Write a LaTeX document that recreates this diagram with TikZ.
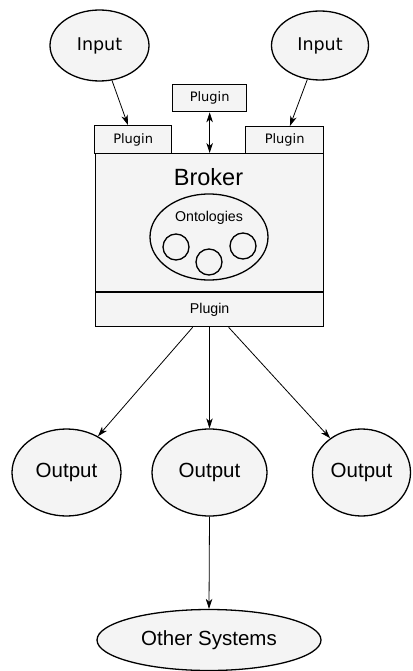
\documentclass[tikz,border=0pt]{standalone}
\usepackage{fontspec}
\setmainfont{Liberation Sans}
\newfontfamily\dejavu{DejaVu Sans}
\usetikzlibrary{shapes.geometric,arrows.meta}
\definecolor{shapefill}{HTML}{F4F4F4}
\tikzset{
  shp/.style={draw=black,line width=1.3pt,fill=shapefill,inner sep=0pt},
  oval/.style={shp,ellipse},
  box/.style={shp,rectangle,anchor=north west},
  tip/.style={Stealth[length=10pt,width=6.5pt,inset=3pt]},
  arr/.style={line width=0.8pt,-{Stealth[length=10pt,width=6.5pt,inset=3pt]}},
  darr/.style={line width=0.8pt,{Stealth[length=10pt,width=6.5pt,inset=3pt]}-{Stealth[length=10pt,width=6.5pt,inset=3pt]}},
  djv/.style={font=\dejavu\fontsize{13}{15}\selectfont},
  djvbig/.style={font=\dejavu\fontsize{17.5}{20}\selectfont},
  lib/.style={font=\fontsize{20.5}{24}\selectfont},
}
\begin{document}
\begin{tikzpicture}[x=1pt,y=-1pt]
\useasboundingbox (0,0) rectangle (412,671);

% inputs
\node[oval,djvbig,minimum width=99pt,minimum height=71pt] (in1) at (99.5,45.5) {Input};
\node[oval,djvbig,minimum width=97pt,minimum height=69pt] (in2) at (320,45.5) {Input};

% plugins on top of the broker
\node[box,djv,minimum width=74pt,minimum height=27pt] (plt) at (172,84) {};
\node[djv] at (plt.center) {Plugin};
\node[box,djv,minimum width=77pt,minimum height=28pt] (pl1) at (94,125) {};
\node[djv] at (pl1.center) {Plugin};
\node[box,djv,minimum width=78pt,minimum height=27pt] (pl2) at (245,126) {};
\node[djv] at (pl2.center) {Plugin};

% broker body
\node[box,minimum width=228pt,minimum height=138pt] (brk) at (95,153) {};
\node[font=\fontsize{23.5}{27}\selectfont] (brklbl) at (208.5,177) {Broker};
\node[draw,line width=1.3pt,ellipse,minimum width=118pt,minimum height=86pt,inner sep=0pt] (ont) at (209,237) {};
\node[font=\fontsize{14.2}{17}\selectfont] (ontlbl) at (209,218) {Ontologies};
\node[draw,line width=1.3pt,circle,minimum size=26pt,inner sep=0pt] (c1) at (176,247) {};
\node[draw,line width=1.3pt,circle,minimum size=26pt,inner sep=0pt] (c2) at (209,262) {};
\node[draw,line width=1.3pt,circle,minimum size=26pt,inner sep=0pt] (c3) at (243,246) {};

% bottom plugin
\node[box,minimum width=228pt,minimum height=34pt] (plb) at (95,292) {};
\node[font=\fontsize{14.2}{17}\selectfont] at (plb.center) {Plugin};

% outputs
\node[oval,lib,minimum width=109pt,minimum height=87pt] (out1) at (66.5,472.5) {Output};
\node[oval,lib,minimum width=115pt,minimum height=87pt] (out2) at (209.5,472.5) {Output};
\node[oval,lib,minimum width=98pt,minimum height=87pt] (out3) at (361.5,472.5) {Output};
\node[oval,lib,minimum width=224pt,minimum height=61pt] (oth) at (209,640) {Other Systems};

% connectors
\draw[arr] (in1) -- (pl1);
\draw[arr] (in2) -- (pl2);
\draw[darr] (plt.south) -- (plt.south |- brk.north);
\draw[arr] ([xshift=-17pt]plb.south) -- (out1);
\draw[arr] (plb.south -| out2.north) -- (out2.north);
\draw[arr] ([xshift=19pt]plb.south) -- (out3);
\draw[arr] (out2.south) -- (oth.north);
\end{tikzpicture}
\end{document}
